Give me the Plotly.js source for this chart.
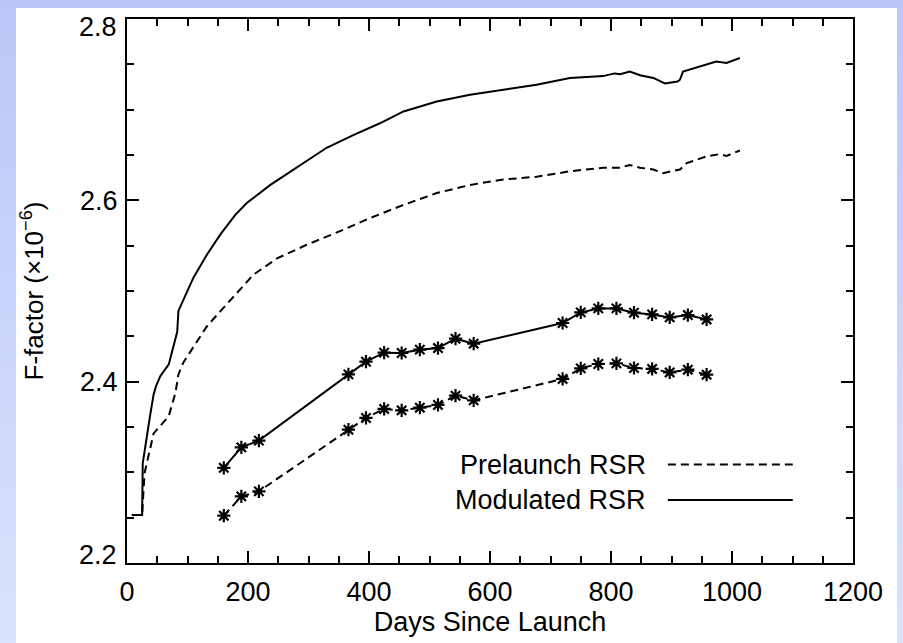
<!DOCTYPE html>
<html>
<head>
<meta charset="utf-8">
<script src="https://cdn.plot.ly/plotly-3.0.1.min.js"></script>
<style>
  html, body { margin: 0; padding: 0; width: 903px; height: 643px; overflow: hidden;
    background: linear-gradient(to bottom, #bcc7f8 0%, #cbd4fb 50%, #dbe2fd 100%); }
  #chart { position: absolute; left: 16px; top: 8px; width: 881px; height: 635px; background: #ffffff; }
</style>
</head>
<body>
<div id="chart"></div>
<script>
// ---- Data ----
// Continuous daily F-factor, modulated RSR (solid)
const modDays = [8, 25, 26, 30, 38, 44, 48, 55, 69, 83, 85, 93, 110, 132, 155, 179, 198, 237, 286, 330, 374, 418, 457, 512, 567, 622, 677, 732, 787, 806, 815, 831, 848, 870, 889, 910, 914, 919, 947, 974, 991, 1013];
const modVals = [2.253, 2.253, 2.310, 2.329, 2.362, 2.386, 2.395, 2.406, 2.419, 2.455, 2.478, 2.490, 2.515, 2.540, 2.563, 2.584, 2.597, 2.617, 2.639, 2.658, 2.672, 2.685, 2.698, 2.709, 2.7165, 2.722, 2.7275, 2.735, 2.737, 2.740, 2.739, 2.742, 2.738, 2.735, 2.729, 2.731, 2.733, 2.742, 2.748, 2.753, 2.7515, 2.757];

// Continuous daily F-factor, prelaunch RSR (dashed)
const preDays = [8, 25, 29, 36, 44, 52, 69, 80, 85, 93, 110, 132, 154, 171, 209, 248, 297, 352, 402, 457, 512, 567, 622, 677, 732, 787, 815, 831, 848, 870, 886, 914, 925, 958, 980, 991, 1013];
const preVals = [2.253, 2.253, 2.299, 2.318, 2.343, 2.349, 2.362, 2.3875, 2.408, 2.421, 2.439, 2.461, 2.4775, 2.490, 2.518, 2.536, 2.551, 2.566, 2.5805, 2.595, 2.608, 2.617, 2.623, 2.626, 2.632, 2.636, 2.636, 2.639, 2.636, 2.634, 2.630, 2.634, 2.641, 2.6485, 2.651, 2.649, 2.655];

// Event-based F-factors (asterisk markers)
const eventDays = [160, 189, 218, 366, 395, 425, 454, 484, 514, 543, 573, 720, 750, 779, 809, 838, 868, 897, 927, 958];
const eventMod  = [2.305, 2.3275, 2.335, 2.408, 2.422, 2.432, 2.4316, 2.4353, 2.4371, 2.4474, 2.4419, 2.4647, 2.4764, 2.4808, 2.4808, 2.4761, 2.4742, 2.4709, 2.4735, 2.4686];
const eventPre  = [2.2522, 2.2735, 2.279, 2.347, 2.360, 2.3699, 2.3683, 2.3713, 2.3743, 2.3845, 2.3794, 2.403, 2.4147, 2.4195, 2.4202, 2.4151, 2.414, 2.4102, 2.4132, 2.4077];

const xTickVals = [0, 200, 400, 600, 800, 1000, 1200];
const yRange = [2.2, 2.8];
const yInnerTickVals = [2.4, 2.6];
const yInnerTickText = ["2.4", "2.6"];
const yEndLabels = ["2.2", "2.8"];   // drawn just inside the axis ends, as in the reference
const legendLabels = ["Prelaunch RSR", "Modulated RSR"];
const xTitle = "Days Since Launch";
const yTitle = "F-factor (×10<sup>−6</sup>)";

// ---- Plot ----
const FONT = "Liberation Sans, Arial, Helvetica, sans-serif";
const DASH = "8px,5px";
const markerStyle = { symbol: "asterisk-open", size: 11, color: "#000", line: { color: "#000", width: 2.2 } };

const traces = [
  { x: modDays, y: modVals, mode: "lines", line: { color: "#000", width: 2 }, showlegend: false, name: legendLabels[1] },
  { x: preDays, y: preVals, mode: "lines", line: { color: "#000", width: 2, dash: DASH }, showlegend: false, name: legendLabels[0] },
  { x: eventDays, y: eventMod, mode: "lines+markers", line: { color: "#000", width: 2 }, marker: markerStyle, showlegend: false, name: legendLabels[1] },
  { x: eventDays, y: eventPre, mode: "lines+markers", line: { color: "#000", width: 2, dash: DASH }, marker: markerStyle, showlegend: false, name: legendLabels[0] }
];

const axisCommon = {
  showgrid: false, zeroline: false, showline: true, linecolor: "#000", linewidth: 2,
  mirror: "allticks", ticks: "inside", ticklen: 12, tickwidth: 2, tickcolor: "#000",
  ticklabeloverflow: "allow",
  tickfont: { family: FONT, size: 27, color: "#000" }
};

const tickFont = { family: FONT, size: 27, color: "#000" };

const layout = {
  width: 881, height: 635,
  margin: { l: 111, r: 44, t: 11, b: 80 },
  paper_bgcolor: "#ffffff", plot_bgcolor: "#ffffff",
  font: { family: FONT, color: "#000" },
  xaxis: Object.assign({}, axisCommon, {
    range: [0, 1200], tickmode: "array", tickvals: xTickVals, ticktext: xTickVals.map(String),
    ticklabelstandoff: 4,
    minor: { dtick: 50, ticks: "inside", ticklen: 7, tickwidth: 2, tickcolor: "#000", showgrid: false },
    title: { text: xTitle, font: { family: FONT, size: 27, color: "#000" }, standoff: 0 }
  }),
  yaxis: Object.assign({}, axisCommon, {
    range: yRange, tickmode: "array", tickvals: yInnerTickVals, ticktext: yInnerTickText,
    ticklabelstandoff: 2,
    minor: { dtick: 0.05, tick0: 2.2, ticks: "inside", ticklen: 7, tickwidth: 2, tickcolor: "#000", showgrid: false },
    title: { text: yTitle, font: { family: FONT, size: 26, color: "#000" }, standoff: 30 }
  }),
  annotations: [
    { xref: "paper", yref: "paper", x: 0, y: 0, xanchor: "right", yanchor: "middle", xshift: -8, yshift: 8,
      text: yEndLabels[0], showarrow: false, font: tickFont },
    { xref: "paper", yref: "paper", x: 0, y: 1, xanchor: "right", yanchor: "middle", xshift: -8, yshift: -8,
      text: yEndLabels[1], showarrow: false, font: tickFont },
    { xref: "paper", yref: "paper", x: 0.718, y: 0.181, xanchor: "right", yanchor: "middle",
      text: legendLabels[0], showarrow: false, font: { family: FONT, size: 27, color: "#000" } },
    { xref: "paper", yref: "paper", x: 0.718, y: 0.116, xanchor: "right", yanchor: "middle",
      text: legendLabels[1], showarrow: false, font: { family: FONT, size: 27, color: "#000" } }
  ],
  shapes: [
    { type: "line", xref: "paper", yref: "paper", x0: 0.745, x1: 0.917, y0: 0.181, y1: 0.181,
      line: { color: "#000", width: 2, dash: DASH } },
    { type: "line", xref: "paper", yref: "paper", x0: 0.745, x1: 0.917, y0: 0.116, y1: 0.116,
      line: { color: "#000", width: 2 } }
  ]
};

Plotly.newPlot("chart", traces, layout, { staticPlot: true, displayModeBar: false });
</script>
</body>
</html>
